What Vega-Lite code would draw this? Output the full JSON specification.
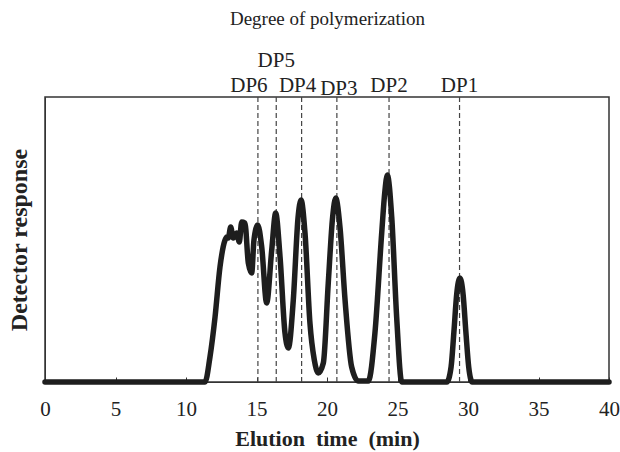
{
  "$schema": "https://vega.github.io/schema/vega-lite/v6.json",
  "width": 564,
  "height": 285,
  "autosize": "none",
  "padding": {"left": 45, "top": 97, "right": 11, "bottom": 70},
  "background": "white",
  "config": {
    "view": {"stroke": "#333333", "strokeWidth": 1.5},
    "font": "Liberation Serif"
  },
  "datasets": {
    "curve": [
      {"time": 0, "resp": 0},
      {"time": 11.35, "resp": 0},
      {"time": 11.7, "resp": 25},
      {"time": 12.06, "resp": 65},
      {"time": 12.41, "resp": 115},
      {"time": 12.77, "resp": 142},
      {"time": 12.89, "resp": 145},
      {"time": 13.0, "resp": 144},
      {"time": 13.17, "resp": 155},
      {"time": 13.35, "resp": 144},
      {"time": 13.6, "resp": 149},
      {"time": 13.78, "resp": 140},
      {"time": 13.95, "resp": 160},
      {"time": 14.18, "resp": 159},
      {"time": 14.42, "resp": 119},
      {"time": 14.66, "resp": 109},
      {"time": 14.82, "resp": 142},
      {"time": 15.09, "resp": 157},
      {"time": 15.37, "resp": 135},
      {"time": 15.72, "resp": 79},
      {"time": 16.08, "resp": 132},
      {"time": 16.36, "resp": 169},
      {"time": 16.67, "resp": 125},
      {"time": 17.02, "resp": 49},
      {"time": 17.26, "resp": 34},
      {"time": 17.61, "resp": 82},
      {"time": 17.95, "resp": 165},
      {"time": 18.16, "resp": 182},
      {"time": 18.44, "resp": 149},
      {"time": 18.79, "resp": 59},
      {"time": 19.1, "resp": 22},
      {"time": 19.38, "resp": 9},
      {"time": 19.74, "resp": 19},
      {"time": 20.09, "resp": 99},
      {"time": 20.4, "resp": 165},
      {"time": 20.62, "resp": 184},
      {"time": 20.92, "resp": 155},
      {"time": 21.28, "resp": 82},
      {"time": 21.75, "resp": 15},
      {"time": 22.22, "resp": 1},
      {"time": 22.93, "resp": 1},
      {"time": 23.4, "resp": 49},
      {"time": 23.88, "resp": 149},
      {"time": 24.1, "resp": 190},
      {"time": 24.28, "resp": 207},
      {"time": 24.59, "resp": 165},
      {"time": 24.94, "resp": 65},
      {"time": 25.3, "resp": 0},
      {"time": 28.5, "resp": 0},
      {"time": 28.8, "resp": 15},
      {"time": 29.0, "resp": 50},
      {"time": 29.2, "resp": 88},
      {"time": 29.43, "resp": 104},
      {"time": 29.65, "resp": 88},
      {"time": 29.85, "resp": 50},
      {"time": 30.05, "resp": 15},
      {"time": 30.3, "resp": 0},
      {"time": 40, "resp": 0}
    ],
    "dp": [
      {"dp": "DP6", "time": 15.1},
      {"dp": "DP5", "time": 16.4},
      {"dp": "DP4", "time": 18.2},
      {"dp": "DP3", "time": 20.7},
      {"dp": "DP2", "time": 24.4},
      {"dp": "DP1", "time": 29.4}
    ]
  },
  "resolve": {"axis": {"x": "independent", "y": "independent"}},
  "layer": [
    {
      "data": {"name": "dp"},
      "mark": {"type": "rule", "strokeDash": [5, 3], "strokeWidth": 1.2, "color": "#444444"},
      "encoding": {
        "x": {"field": "time", "type": "quantitative",
              "scale": {"domain": [0, 40], "nice": false},
              "axis": {"orient": "top", "labels": false, "ticks": false, "domain": false, "grid": false,
                       "title": "Degree of polymerization", "titleFont": "Liberation Serif",
                       "titleFontSize": 19, "titleFontWeight": "normal", "titleColor": "#222222",
                       "titleBaseline": "alphabetic", "titlePadding": 73}},
        "y": {"datum": 0, "type": "quantitative", "scale": {"domain": [0, 285], "nice": false}, "axis": null},
        "y2": {"datum": 285}
      }
    },
    {
      "data": {"name": "curve"},
      "mark": {"type": "line", "interpolate": "monotone", "strokeWidth": 5.5, "color": "#1e1e1e", "strokeJoin": "round", "strokeCap": "round"},
      "encoding": {
        "x": {"field": "time", "type": "quantitative",
              "scale": {"domain": [0, 40], "nice": false},
              "axis": {"values": [0, 5, 10, 15, 20, 25, 30, 35, 40], "grid": false,
                       "tickSize": -5, "tickColor": "#333333", "domainColor": "#333333",
                       "labelFont": "Liberation Serif", "labelFontSize": 21, "labelColor": "#222222",
                       "labelPadding": 21, "labelFlush": false,
                       "title": "Elution\u00a0 time\u00a0 (min)", "titleFont": "Liberation Serif",
                       "titleFontSize": 22, "titleFontWeight": "bold", "titleColor": "#222222",
                       "titlePadding": 9}},
        "y": {"field": "resp", "type": "quantitative",
              "scale": {"domain": [0, 285], "nice": false},
              "axis": {"labels": false, "ticks": false, "grid": false, "domainColor": "#333333",
                       "title": "Detector response", "titleFont": "Liberation Serif",
                       "titleFontSize": 24, "titleFontWeight": "bold", "titleColor": "#222222",
                       "titlePadding": 14}}
      }
    },
    {
      "data": {"name": "dp"},
      "transform": [{"filter": "datum.dp === 'DP2' || datum.dp === 'DP1'"}],
      "mark": {"type": "text", "font": "Liberation Serif", "fontSize": 21, "baseline": "alphabetic", "align": "center", "color": "#222222"},
      "encoding": {
        "x": {"field": "time", "type": "quantitative", "axis": null},
        "y": {"datum": 290, "type": "quantitative", "axis": null},
        "text": {"field": "dp"}
      }
    },
    {
      "data": {"name": "dp"},
      "transform": [{"filter": "datum.dp === 'DP6'"}],
      "mark": {"type": "text", "font": "Liberation Serif", "fontSize": 21, "baseline": "alphabetic", "align": "center", "dx": -9, "color": "#222222"},
      "encoding": {
        "x": {"field": "time", "type": "quantitative", "axis": null},
        "y": {"datum": 290, "type": "quantitative", "axis": null},
        "text": {"field": "dp"}
      }
    },
    {
      "data": {"name": "dp"},
      "transform": [{"filter": "datum.dp === 'DP5'"}],
      "mark": {"type": "text", "font": "Liberation Serif", "fontSize": 21, "baseline": "alphabetic", "align": "center", "dy": -25, "color": "#222222"},
      "encoding": {
        "x": {"field": "time", "type": "quantitative", "axis": null},
        "y": {"datum": 290, "type": "quantitative", "axis": null},
        "text": {"field": "dp"}
      }
    },
    {
      "data": {"name": "dp"},
      "transform": [{"filter": "datum.dp === 'DP4'"}],
      "mark": {"type": "text", "font": "Liberation Serif", "fontSize": 21, "baseline": "alphabetic", "align": "center", "dx": -4, "color": "#222222"},
      "encoding": {
        "x": {"field": "time", "type": "quantitative", "axis": null},
        "y": {"datum": 290, "type": "quantitative", "axis": null},
        "text": {"field": "dp"}
      }
    },
    {
      "data": {"name": "dp"},
      "transform": [{"filter": "datum.dp === 'DP3'"}],
      "mark": {"type": "text", "font": "Liberation Serif", "fontSize": 21, "baseline": "alphabetic", "align": "center", "dx": 2, "dy": 3, "color": "#222222"},
      "encoding": {
        "x": {"field": "time", "type": "quantitative", "axis": null},
        "y": {"datum": 290, "type": "quantitative", "axis": null},
        "text": {"field": "dp"}
      }
    }
  ]
}
